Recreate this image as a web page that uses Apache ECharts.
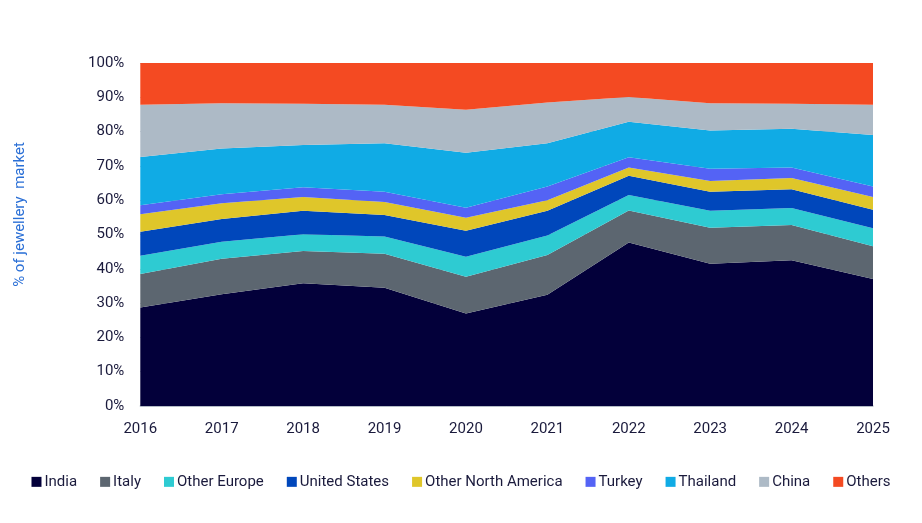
<html>
<head>
    <title></title>
    <script src="https://cdn.jsdelivr.net/npm/echarts@6/dist/echarts.min.js" type="text/javascript"></script>
</head>
<body style="margin:0;background:#fff;">
    <div id="chartDiv" style="width:922px;height:523px;"></div>
</body>
<script type="text/javascript" charset="utf-8">
        // share of jewellery market by country, %
        var years = ['2016','2017','2018','2019','2020','2021','2022','2023','2024','2025'];
        var india         = [28.7, 32.6, 35.8, 34.5, 27.0, 32.4, 47.7, 41.5, 42.5, 37.0];
        var italy         = [ 9.8, 10.3,  9.4,  9.9, 10.7, 11.6,  9.3, 10.5, 10.3,  9.6];
        var otherEurope   = [ 5.3,  5.0,  4.9,  5.0,  5.8,  5.7,  4.5,  4.9,  4.9,  5.2];
        var unitedStates  = [ 7.0,  6.6,  6.8,  6.3,  7.6,  7.2,  5.6,  5.6,  5.5,  5.4];
        var otherNA       = [ 5.1,  4.6,  4.0,  3.8,  3.8,  3.1,  2.4,  3.1,  3.3,  3.7];
        var turkey        = [ 2.6,  2.6,  2.9,  3.0,  2.9,  4.0,  3.0,  3.6,  3.0,  3.1];
        var thailand      = [14.1, 13.4, 12.3, 14.1, 16.0, 12.6, 10.4, 11.1, 11.3, 15.0];
        var china         = [15.2, 13.2, 12.0, 11.2, 12.6, 11.9,  7.2,  8.0,  7.3,  8.8];
        var others        = [12.2, 11.7, 11.9, 12.2, 13.6, 11.5,  9.9, 11.7, 11.9, 12.2];

        var seriesList = [
            ['India', india, '#03003a'],
            ['Italy', italy, '#5c6670'],
            ['Other Europe', otherEurope, '#2ecbd2'],
            ['United States', unitedStates, '#0047bb'],
            ['Other North America', otherNA, '#dfc62a'],
            ['Turkey', turkey, '#5463f5'],
            ['Thailand', thailand, '#10abe5'],
            ['China', china, '#adbac6'],
            ['Others', others, '#f44a22']
        ];

        var fontName = 'Roboto, sans-serif';
        var textColor = '#1a1a3c';

        var chart = echarts.init(document.getElementById('chartDiv'));
        var series = [];
        for (var i = 0; i < seriesList.length; i++) {
            series.push({
                name: seriesList[i][0],
                type: 'line',
                stack: 'total',
                data: seriesList[i][1],
                symbol: 'none',
                lineStyle: { width: 0 },
                areaStyle: { color: seriesList[i][2], opacity: 1 },
                itemStyle: { color: seriesList[i][2] },
                emphasis: { disabled: true }
            });
        }

        chart.setOption({
            animation: false,
            grid: { left: 138, right: 49, top: 63, bottom: 117 },
            legend: {
                bottom: 24,
                left: 'center',
                icon: 'rect',
                itemWidth: 10,
                itemHeight: 10,
                itemGap: 23,
                textStyle: { fontFamily: fontName, fontSize: 15, color: textColor, padding: [0, 0, 0, -2] },
                data: seriesList.map(function (s) { return s[0]; })
            },
            xAxis: {
                type: 'category',
                data: years,
                boundaryGap: false,
                axisLine: { lineStyle: { color: '#b4bcc6', width: 1.5 } },
                axisTick: { show: false },
                axisLabel: { fontFamily: fontName, fontSize: 15, color: textColor, margin: 11 }
            },
            yAxis: {
                type: 'value',
                min: 0,
                max: 100,
                interval: 10,
                name: '% of jewellery  market',
                nameLocation: 'middle',
                nameGap: 108,
                nameTextStyle: { fontFamily: fontName, fontSize: 15, color: '#2a6fd6', padding: [0, 0, 0, 40] },
                axisLine: { show: false },
                axisTick: { show: false },
                splitLine: { show: true, lineStyle: { color: '#b4bcc6' } },
                axisLabel: { fontFamily: fontName, fontSize: 15, color: textColor, margin: 16, formatter: '{value}%' }
            },
            series: series
        });
</script>
</html>
